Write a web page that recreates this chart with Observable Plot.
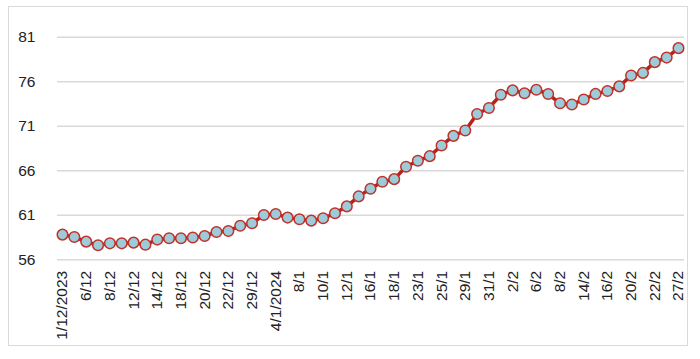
<!DOCTYPE html>
<html>
<head>
<meta charset="utf-8">
<script src="https://cdn.jsdelivr.net/npm/d3@7"></script>
<script src="https://cdn.jsdelivr.net/npm/@observablehq/plot@0.6"></script>
<style>
  html, body { margin: 0; padding: 0; background: #fff; }
  #wrap { position: relative; width: 700px; height: 359px; }
  #border { position: absolute; left: 8px; top: 6px; width: 678px; height: 338px; border: 1px solid #d9d9d9; pointer-events: none; }
</style>
</head>
<body>
<div id="wrap"><div id="border"></div><div id="chart"></div></div>
<script>
const dates = ["1/12/2023","4/12","6/12","7/12","8/12","11/12","12/12","13/12","14/12","15/12",
  "18/12","19/12","20/12","21/12","22/12","27/12","29/12","2/1","4/1/2024","5/1",
  "8/1","9/1","10/1","11/1","12/1","15/1","16/1","17/1","18/1","22/1",
  "23/1","24/1","25/1","26/1","29/1","30/1","31/1","1/2","2/2","5/2",
  "6/2","7/2","8/2","13/2","14/2","15/2","16/2","19/2","20/2","21/2",
  "22/2","26/2","27/2"];
const values = [58.83,58.56,58.04,57.63,57.85,57.85,57.93,57.70,58.27,58.42,
  58.42,58.50,58.67,59.12,59.24,59.82,60.10,61.03,61.15,60.74,
  60.55,60.40,60.66,61.22,62.00,63.12,63.98,64.77,65.06,66.45,
  67.12,67.64,68.84,69.92,70.52,72.38,73.05,74.54,75.03,74.70,
  75.10,74.62,73.58,73.45,74.00,74.63,74.96,75.48,76.70,76.99,
  78.20,78.71,79.77];
const yTicks = [56, 61, 66, 71, 76, 81];
const labelDates = dates.filter((d, i) => i % 2 === 0);

const data = dates.map((d, i) => ({date: d, value: values[i]}));

const chart = Plot.plot({
  width: 700,
  height: 359,
  marginLeft: 57,
  marginRight: 16,
  marginTop: 36.7,
  marginBottom: 99.7,
  style: {fontFamily: "Arial, 'Liberation Sans', sans-serif", background: "transparent"},
  x: {type: "point", domain: dates, padding: 0, insetLeft: 5, insetRight: 6, label: null},
  y: {domain: [56, 81], label: null},
  marks: [
    Plot.ruleY(yTicks, {stroke: "#d9d9d9", strokeWidth: 1.5}),
    Plot.axisY({ticks: yTicks, tickSize: 0, tickPadding: 22, fontSize: 15.5, fill: "#222", label: null}),
    Plot.axisX({ticks: labelDates, tickSize: 0, tickRotate: -90, tickPadding: 11, fontSize: 15.5, fill: "#222", label: null}),
    Plot.line(data, {x: "date", y: "value", stroke: "#B5221B", strokeWidth: 3.5}),
    Plot.dot(data, {x: "date", y: "value", r: 5.3, fill: "#9DCBDA", stroke: "#C0322A", strokeWidth: 1.5})
  ]
});
document.getElementById("chart").appendChild(chart);
</script>
</body>
</html>
